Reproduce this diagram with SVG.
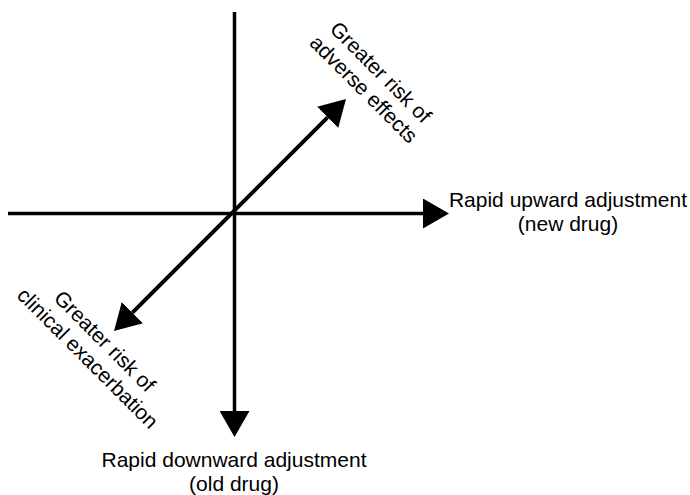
<svg xmlns="http://www.w3.org/2000/svg" width="690" height="495" viewBox="0 0 690 495">
<style>
.ax{stroke:#000;stroke-width:3.5;fill:none}
.dg{stroke-width:4}
.lb{font-family:"Liberation Sans",Arial,sans-serif;font-size:21px;fill:#000;text-anchor:middle}
</style>
<defs>
<marker id="ah" viewBox="0 0 26 30" refX="0" refY="15" markerWidth="26" markerHeight="30" markerUnits="userSpaceOnUse" orient="auto-start-reverse">
<path d="M0,0 L26,15 L0,30 Z" fill="#000"/>
</marker>
</defs>
<rect width="690" height="495" fill="#fff"/>
<g id="connectors">
<line class="ax" x1="234.5" y1="12" x2="234.5" y2="411" marker-end="url(#ah)"/>
<line class="ax" x1="8" y1="213.5" x2="423" y2="213.5" marker-end="url(#ah)"/>
<line class="ax dg" x1="132.4" y1="312.6" x2="327.6" y2="117.4" marker-start="url(#ah)" marker-end="url(#ah)"/>
</g>
<g id="node-adverse" transform="translate(375.7,77.3) rotate(45)">
<text class="lb" x="0" y="0">Greater risk of</text>
<text class="lb" x="0" y="24">adverse effects</text>
</g>
<g id="node-exacerbation" transform="translate(99.7,346.3) rotate(45)">
<text class="lb" x="0" y="0">Greater risk of</text>
<text class="lb" x="0" y="24">clinical exacerbation</text>
</g>
<g id="node-upward">
<text class="lb" x="568" y="206.5">Rapid upward adjustment</text>
<text class="lb" x="568" y="230.5">(new drug)</text>
</g>
<g id="node-downward">
<text class="lb" x="234" y="467">Rapid downward adjustment</text>
<text class="lb" x="234" y="491">(old drug)</text>
</g>
</svg>
